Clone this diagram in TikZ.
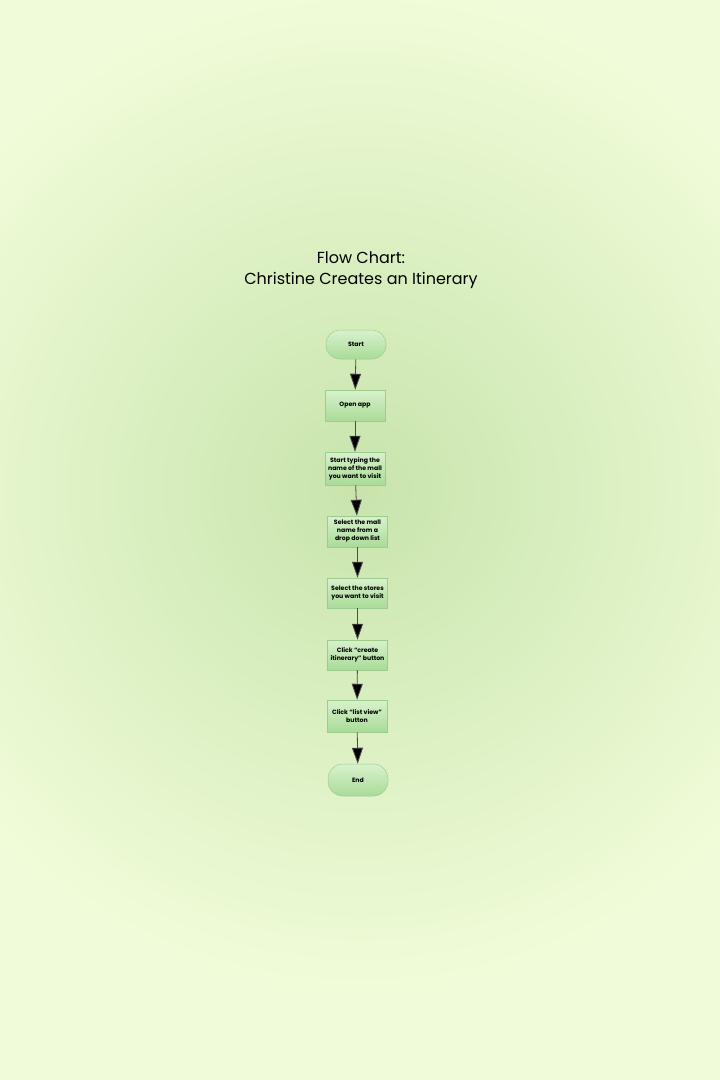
\documentclass[tikz,border=0pt]{standalone}
\usepackage{fontspec}
\setmainfont{Poppins}
\usetikzlibrary{arrows.meta}
\definecolor{bgout}{HTML}{F0FCD9}
\definecolor{bgin}{HTML}{C8E4AC}
\definecolor{ntop}{HTML}{D8F2CC}
\definecolor{nbot}{HTML}{A9DB98}
\definecolor{nborder}{HTML}{9ECB8E}
\tikzset{
  boxbase/.style={draw=nborder, line width=0.5pt, top color=ntop, bottom color=nbot,
    minimum width=60pt, align=center, inner sep=1pt,
    font=\fontsize{6.2}{8}\selectfont\bfseries},
  procbox/.style={boxbase, rectangle, minimum height=31pt},
  termbox/.style={boxbase, rectangle, rounded corners=14pt, minimum height=30pt},
  flow/.style={draw=black!70, line width=0.8pt, -{Triangle[length=16pt,width=11pt,fill=black]}}
}
\begin{document}
\begin{tikzpicture}[x=1pt,y=-1pt]
\useasboundingbox (0,0) rectangle (720,1080);
\fill[bgout] (0,0) rectangle (720,1080);
\begin{scope}
\clip (0,0) rectangle (720,1080);
\shade[inner color=bgin, outer color=bgout] (360,490) circle (500);
\end{scope}
\node[font=\fontsize{16}{21}\selectfont, align=center] (title) at (361,270) {Flow Chart:\\Christine Creates an Itinerary};
\node[termbox, minimum height=29pt] (start) at (356,344.5) {Start};
\node[procbox] (open) at (355,405.5) {Open app};
\node[procbox, minimum height=33pt] (type) at (355,468.5) {Start typing the\\name of the mall\\you want to visit};
\node[procbox] (mall) at (357.5,531.5) {Select the mall\\name from a\\drop down list};
\node[procbox, minimum height=30pt] (stores) at (357.5,593) {Select the stores\\you want to visit};
\node[procbox, minimum height=30pt] (create) at (357.5,655) {Click ``create\\itinerary'' button};
\node[procbox, minimum height=32pt] (list) at (357,716) {Click ``list view''\\button};
\node[termbox, minimum height=32pt, rounded corners=15pt] (end) at (358,780) {End};
\draw[flow] (start) -- (open);
\draw[flow] (open) -- (type);
\draw[flow] (type) -- (mall);
\draw[flow] (mall) -- (stores);
\draw[flow] (stores) -- (create);
\draw[flow] (create) -- (list);
\draw[flow] (list) -- (end);
\end{tikzpicture}
\end{document}
